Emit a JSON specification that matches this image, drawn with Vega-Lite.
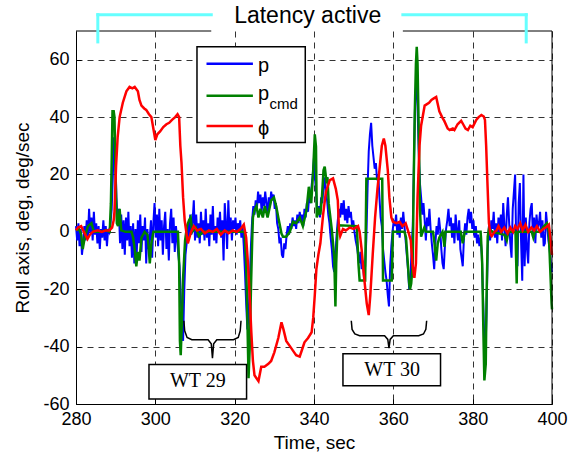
{
"$schema":"https://vega.github.io/schema/vega-lite/v6.json",
"width":476,"height":373,
"autosize":{"type":"none"},
"padding":{"left":76,"top":31,"right":24,"bottom":52},
"background":"white",
"config":{"view":{"stroke":null},
"axis":{"labelFont":"Liberation Sans","labelFontSize":18,"labelColor":"black","labelFlush":false,"titleFont":"Liberation Sans","titleFontSize":19,"titleFontWeight":"normal","titleColor":"black","domainColor":"black","domainWidth":1,"grid":true,"gridColor":"#333","gridDash":[6,5],"gridWidth":1,"gridOpacity":1,"ticks":true,"tickSize":-5,"tickColor":"black","tickWidth":1}},
"datasets":{
"p":[{"t":280.0,"v":2},{"t":280.3,"v":-3},{"t":280.6,"v":3},{"t":280.9,"v":-5},{"t":281.2,"v":1},{"t":281.5,"v":-8},{"t":281.8,"v":-4},{"t":282.1,"v":2},{"t":282.4,"v":-3},{"t":282.7,"v":4},{"t":283.0,"v":-2},{"t":283.3,"v":8},{"t":283.6,"v":0},{"t":283.9,"v":5},{"t":284.2,"v":-3},{"t":284.5,"v":7},{"t":284.8,"v":-1},{"t":285.1,"v":3},{"t":285.4,"v":-4},{"t":285.7,"v":2},{"t":286.0,"v":-6},{"t":286.3,"v":1},{"t":286.6,"v":-2},{"t":286.9,"v":4},{"t":287.2,"v":-3},{"t":287.5,"v":2},{"t":287.8,"v":-5},{"t":288.1,"v":1},{"t":288.4,"v":0},{"t":288.7,"v":3},{"t":289.0,"v":8},{"t":289.3,"v":20},{"t":289.6,"v":33},{"t":289.9,"v":27},{"t":290.2,"v":12},{"t":290.5,"v":3},{"t":290.8,"v":8},{"t":291.1,"v":-4},{"t":291.4,"v":6},{"t":291.7,"v":-6},{"t":292.0,"v":4},{"t":292.3,"v":-8},{"t":292.6,"v":5},{"t":292.9,"v":-3},{"t":293.2,"v":7},{"t":293.5,"v":-5},{"t":293.8,"v":2},{"t":294.1,"v":-9},{"t":294.4,"v":3},{"t":294.7,"v":-11},{"t":295.0,"v":1},{"t":295.3,"v":-8},{"t":295.6,"v":4},{"t":295.9,"v":-4},{"t":296.2,"v":6},{"t":296.5,"v":-7},{"t":296.8,"v":2},{"t":297.1,"v":-3},{"t":297.4,"v":5},{"t":297.7,"v":-11},{"t":298.0,"v":1},{"t":298.3,"v":-6},{"t":298.6,"v":-2},{"t":298.9,"v":4},{"t":299.2,"v":-9},{"t":299.5,"v":3},{"t":299.8,"v":10},{"t":300.1,"v":-2},{"t":300.4,"v":6},{"t":300.7,"v":-5},{"t":301.0,"v":8},{"t":301.3,"v":-3},{"t":301.6,"v":4},{"t":301.9,"v":-8},{"t":302.2,"v":2},{"t":302.5,"v":7},{"t":302.8,"v":-6},{"t":303.1,"v":1},{"t":303.4,"v":-10},{"t":303.7,"v":3},{"t":304.0,"v":8},{"t":304.3,"v":-4},{"t":304.6,"v":5},{"t":304.9,"v":-7},{"t":305.2,"v":2},{"t":305.5,"v":-3},{"t":305.8,"v":-8},{"t":306.1,"v":-12},{"t":306.4,"v":-22},{"t":306.7,"v":-33},{"t":307.0,"v":-38},{"t":307.3,"v":-20},{"t":307.6,"v":-8},{"t":307.9,"v":-4},{"t":308.2,"v":3},{"t":308.5,"v":-2},{"t":308.8,"v":6},{"t":309.1,"v":-1},{"t":309.4,"v":4},{"t":309.7,"v":11},{"t":310.0,"v":-3},{"t":310.3,"v":6},{"t":310.6,"v":-2},{"t":310.9,"v":3},{"t":311.2,"v":-4},{"t":311.5,"v":7},{"t":311.8,"v":-1},{"t":312.1,"v":4},{"t":312.4,"v":-3},{"t":312.7,"v":8},{"t":313.0,"v":-2},{"t":313.3,"v":3},{"t":313.6,"v":-5},{"t":313.9,"v":6},{"t":314.2,"v":-1},{"t":314.5,"v":9},{"t":314.8,"v":-3},{"t":315.1,"v":2},{"t":315.4,"v":-4},{"t":315.7,"v":5},{"t":316.0,"v":0},{"t":316.3,"v":7},{"t":316.6,"v":-2},{"t":316.9,"v":4},{"t":317.2,"v":-10},{"t":317.5,"v":10},{"t":317.8,"v":3},{"t":318.1,"v":-6},{"t":318.4,"v":11},{"t":318.7,"v":0},{"t":319.0,"v":5},{"t":319.3,"v":-3},{"t":319.6,"v":4},{"t":319.9,"v":1},{"t":320.2,"v":5},{"t":320.5,"v":-1},{"t":320.8,"v":3},{"t":321.1,"v":0},{"t":321.4,"v":4},{"t":321.7,"v":-2},{"t":322.0,"v":2},{"t":322.3,"v":-5},{"t":322.6,"v":-14},{"t":322.9,"v":-25},{"t":323.2,"v":-34},{"t":323.5,"v":-30},{"t":323.8,"v":-18},{"t":324.1,"v":-5},{"t":324.4,"v":4},{"t":324.7,"v":9},{"t":325.0,"v":6},{"t":325.3,"v":11},{"t":325.6,"v":8},{"t":325.9,"v":14},{"t":326.2,"v":10},{"t":326.5,"v":13},{"t":326.8,"v":7},{"t":327.1,"v":12},{"t":327.4,"v":9},{"t":327.7,"v":14},{"t":328.0,"v":10},{"t":328.3,"v":6},{"t":328.6,"v":12},{"t":328.9,"v":9},{"t":329.2,"v":14},{"t":329.5,"v":11},{"t":329.8,"v":13},{"t":330.1,"v":8},{"t":330.4,"v":10},{"t":330.7,"v":3},{"t":331.0,"v":1},{"t":331.3,"v":-4},{"t":331.6,"v":-2},{"t":331.9,"v":-8},{"t":332.2,"v":-9},{"t":332.5,"v":-4},{"t":332.8,"v":-6},{"t":333.1,"v":-1},{"t":333.4,"v":2},{"t":333.7,"v":-1},{"t":334.0,"v":3},{"t":334.3,"v":1},{"t":334.6,"v":5},{"t":334.9,"v":2},{"t":335.2,"v":4},{"t":335.5,"v":1},{"t":335.8,"v":6},{"t":336.1,"v":3},{"t":336.4,"v":7},{"t":336.7,"v":4},{"t":337.0,"v":6},{"t":337.3,"v":2},{"t":337.6,"v":8},{"t":337.9,"v":5},{"t":338.2,"v":10},{"t":338.5,"v":7},{"t":338.8,"v":13},{"t":339.1,"v":10},{"t":339.4,"v":16},{"t":339.7,"v":20},{"t":340.0,"v":26},{"t":340.3,"v":18},{"t":340.6,"v":12},{"t":340.9,"v":6},{"t":341.2,"v":9},{"t":341.5,"v":5},{"t":341.8,"v":12},{"t":342.1,"v":10},{"t":342.4,"v":16},{"t":342.7,"v":19},{"t":343.0,"v":13},{"t":343.3,"v":11},{"t":343.6,"v":6},{"t":343.9,"v":3},{"t":344.2,"v":-2},{"t":344.5,"v":-6},{"t":344.8,"v":-12},{"t":345.1,"v":-14},{"t":345.4,"v":-8},{"t":345.7,"v":-1},{"t":346.0,"v":4},{"t":346.3,"v":8},{"t":346.6,"v":5},{"t":346.9,"v":10},{"t":347.2,"v":6},{"t":347.5,"v":11},{"t":347.8,"v":4},{"t":348.1,"v":8},{"t":348.4,"v":3},{"t":348.7,"v":9},{"t":349.0,"v":5},{"t":349.3,"v":7},{"t":349.6,"v":2},{"t":349.9,"v":4},{"t":350.2,"v":0},{"t":350.5,"v":-3},{"t":350.8,"v":-5},{"t":351.1,"v":-8},{"t":351.4,"v":-11},{"t":351.7,"v":-7},{"t":352.0,"v":-13},{"t":352.3,"v":-10},{"t":352.6,"v":-16},{"t":352.9,"v":-12},{"t":353.2,"v":-2},{"t":353.5,"v":15},{"t":353.8,"v":28},{"t":354.1,"v":34},{"t":354.4,"v":38},{"t":354.7,"v":30},{"t":355.0,"v":26},{"t":355.3,"v":22},{"t":355.6,"v":24},{"t":355.9,"v":18},{"t":356.2,"v":20},{"t":356.5,"v":12},{"t":356.8,"v":5},{"t":357.1,"v":2},{"t":357.4,"v":-6},{"t":357.7,"v":-10},{"t":358.0,"v":-14},{"t":358.3,"v":-17},{"t":358.6,"v":-22},{"t":358.9,"v":-26},{"t":359.2,"v":-12},{"t":359.5,"v":-5},{"t":359.8,"v":0},{"t":360.1,"v":4},{"t":360.4,"v":2},{"t":360.7,"v":6},{"t":361.0,"v":-1},{"t":361.3,"v":3},{"t":361.6,"v":-2},{"t":361.9,"v":5},{"t":362.2,"v":1},{"t":362.5,"v":7},{"t":362.8,"v":2},{"t":363.1,"v":-3},{"t":363.4,"v":-8},{"t":363.7,"v":-13},{"t":364.0,"v":-20},{"t":364.3,"v":-17},{"t":364.6,"v":-6},{"t":364.9,"v":2},{"t":365.2,"v":24},{"t":365.5,"v":46},{"t":365.8,"v":52},{"t":366.1,"v":44},{"t":366.4,"v":28},{"t":366.7,"v":17},{"t":367.0,"v":12},{"t":367.3,"v":6},{"t":367.6,"v":10},{"t":367.9,"v":4},{"t":368.2,"v":-3},{"t":368.5,"v":5},{"t":368.8,"v":2},{"t":369.1,"v":8},{"t":369.4,"v":1},{"t":369.7,"v":-4},{"t":370.0,"v":-8},{"t":370.3,"v":-13},{"t":370.6,"v":-4},{"t":370.9,"v":2},{"t":371.2,"v":-1},{"t":371.5,"v":5},{"t":371.8,"v":1},{"t":372.1,"v":-6},{"t":372.4,"v":-11},{"t":372.7,"v":-13},{"t":373.0,"v":-5},{"t":373.3,"v":1},{"t":373.6,"v":4},{"t":373.9,"v":8},{"t":374.2,"v":2},{"t":374.5,"v":5},{"t":374.8,"v":-2},{"t":375.1,"v":3},{"t":375.4,"v":-4},{"t":375.7,"v":6},{"t":376.0,"v":1},{"t":376.3,"v":-3},{"t":376.6,"v":4},{"t":376.9,"v":-6},{"t":377.2,"v":-9},{"t":377.5,"v":-12},{"t":377.8,"v":-2},{"t":378.1,"v":3},{"t":378.4,"v":-1},{"t":378.7,"v":5},{"t":379.0,"v":8},{"t":379.3,"v":3},{"t":379.6,"v":7},{"t":379.9,"v":1},{"t":380.2,"v":4},{"t":380.5,"v":-2},{"t":380.8,"v":2},{"t":381.1,"v":-4},{"t":381.4,"v":-1},{"t":381.7,"v":-5},{"t":382.0,"v":-2},{"t":382.3,"v":-8},{"t":382.6,"v":-22},{"t":382.9,"v":-36},{"t":383.2,"v":-43},{"t":383.5,"v":-28},{"t":383.8,"v":-6},{"t":384.1,"v":2},{"t":384.4,"v":-3},{"t":384.7,"v":4},{"t":385.0,"v":1},{"t":385.3,"v":7},{"t":385.6,"v":-2},{"t":385.9,"v":3},{"t":386.2,"v":-4},{"t":386.5,"v":5},{"t":386.8,"v":0},{"t":387.1,"v":6},{"t":387.4,"v":-3},{"t":387.7,"v":10},{"t":388.0,"v":2},{"t":388.3,"v":-5},{"t":388.6,"v":6},{"t":388.9,"v":12},{"t":389.2,"v":3},{"t":389.5,"v":-4},{"t":389.8,"v":-9},{"t":390.1,"v":8},{"t":390.4,"v":14},{"t":390.7,"v":20},{"t":391.0,"v":-6},{"t":391.3,"v":-12},{"t":391.6,"v":10},{"t":391.9,"v":17},{"t":392.2,"v":-3},{"t":392.5,"v":-17},{"t":392.8,"v":20},{"t":393.1,"v":-12},{"t":393.4,"v":5},{"t":393.7,"v":-6},{"t":394.0,"v":-11},{"t":394.3,"v":3},{"t":394.6,"v":8},{"t":394.9,"v":10},{"t":395.2,"v":-2},{"t":395.5,"v":5},{"t":395.8,"v":-4},{"t":396.1,"v":6},{"t":396.4,"v":1},{"t":396.7,"v":3},{"t":397.0,"v":7},{"t":397.3,"v":-2},{"t":397.6,"v":4},{"t":397.9,"v":-5},{"t":398.2,"v":-4},{"t":398.5,"v":7},{"t":398.8,"v":2},{"t":399.1,"v":-3},{"t":399.4,"v":-6},{"t":399.7,"v":-11},{"t":400.0,"v":-14}],
"pcmd":[{"t":280.0,"v":0.5},{"t":280.8,"v":1},{"t":281.3,"v":-1},{"t":281.7,"v":-6},{"t":282.2,"v":-2},{"t":283.0,"v":2},{"t":283.9,"v":3},{"t":284.5,"v":0},{"t":286.0,"v":0},{"t":287.5,"v":0.5},{"t":288.5,"v":0},{"t":288.8,"v":10},{"t":289.0,"v":25},{"t":289.2,"v":42},{"t":289.5,"v":42},{"t":289.7,"v":40},{"t":289.9,"v":25},{"t":290.1,"v":12},{"t":290.3,"v":3},{"t":290.6,"v":2},{"t":291.0,"v":8},{"t":291.4,"v":0.5},{"t":292.5,"v":0},{"t":294.0,"v":0},{"t":294.4,"v":-2},{"t":294.8,"v":-6},{"t":295.2,"v":-12},{"t":295.6,"v":-7},{"t":296.0,"v":-10},{"t":296.5,"v":-2},{"t":297.3,"v":0},{"t":298.0,"v":-1},{"t":298.3,"v":-5},{"t":298.6,"v":-11},{"t":299.0,"v":-4},{"t":299.5,"v":0},{"t":305.7,"v":0},{"t":306.0,"v":-11},{"t":306.2,"v":-38},{"t":306.4,"v":-43},{"t":306.7,"v":-31},{"t":307.0,"v":-16},{"t":307.5,"v":-3},{"t":308.0,"v":2},{"t":308.5,"v":4},{"t":308.9,"v":5},{"t":309.3,"v":0},{"t":310.2,"v":1.5},{"t":311.0,"v":-1.5},{"t":311.9,"v":0},{"t":322.5,"v":0},{"t":322.9,"v":-11},{"t":323.2,"v":-30},{"t":323.5,"v":-51},{"t":323.8,"v":-40},{"t":324.1,"v":-20},{"t":324.4,"v":-4},{"t":324.6,"v":5},{"t":325.0,"v":7.5},{"t":325.5,"v":9},{"t":326.0,"v":5},{"t":326.5,"v":8},{"t":327.1,"v":5},{"t":327.6,"v":9},{"t":328.3,"v":5},{"t":329.2,"v":11},{"t":329.9,"v":12},{"t":330.5,"v":8.7},{"t":331.0,"v":5},{"t":331.8,"v":-0.6},{"t":332.2,"v":-1.7},{"t":333.0,"v":-1.7},{"t":333.9,"v":0},{"t":334.7,"v":3.5},{"t":335.5,"v":3},{"t":336.4,"v":5},{"t":337.2,"v":2},{"t":338.1,"v":7.5},{"t":338.7,"v":15.7},{"t":339.3,"v":10},{"t":339.8,"v":21.5},{"t":340.2,"v":34},{"t":340.5,"v":29.7},{"t":340.7,"v":5},{"t":341.2,"v":7.5},{"t":341.6,"v":6},{"t":342.0,"v":12},{"t":342.4,"v":21.5},{"t":342.7,"v":22.7},{"t":343.1,"v":18},{"t":343.4,"v":19},{"t":343.7,"v":10},{"t":344.5,"v":0.6},{"t":345.1,"v":-8.7},{"t":345.4,"v":-26},{"t":345.6,"v":-11},{"t":345.9,"v":0},{"t":346.2,"v":2.3},{"t":350.8,"v":2},{"t":351.2,"v":-11},{"t":351.5,"v":-17},{"t":352.9,"v":-17},{"t":353.2,"v":18.5},{"t":357.2,"v":18.5},{"t":357.4,"v":-17},{"t":359.6,"v":-17},{"t":359.9,"v":0},{"t":362.8,"v":0},{"t":363.2,"v":-2},{"t":363.6,"v":-10},{"t":364.0,"v":-18},{"t":364.2,"v":-20},{"t":364.5,"v":-18},{"t":364.9,"v":-11},{"t":365.1,"v":14.5},{"t":365.4,"v":41},{"t":365.7,"v":58.7},{"t":365.9,"v":64.5},{"t":366.1,"v":58.7},{"t":366.4,"v":35.5},{"t":366.7,"v":8.7},{"t":367.0,"v":-1.7},{"t":367.4,"v":0},{"t":367.8,"v":1.5},{"t":368.2,"v":0},{"t":370.0,"v":0},{"t":370.3,"v":-3},{"t":370.8,"v":-10},{"t":371.2,"v":-4},{"t":371.6,"v":-2},{"t":372.4,"v":0},{"t":372.9,"v":-5.2},{"t":373.1,"v":0},{"t":377.0,"v":0},{"t":377.5,"v":-4},{"t":378.0,"v":0},{"t":382.0,"v":0},{"t":382.1,"v":-2},{"t":382.4,"v":-11},{"t":382.7,"v":-34.5},{"t":382.95,"v":-51.8},{"t":383.3,"v":-46},{"t":383.5,"v":-22.7},{"t":383.8,"v":-1.7},{"t":384.1,"v":1},{"t":385.0,"v":0},{"t":388.0,"v":-1},{"t":388.2,"v":-1.7},{"t":388.6,"v":-3},{"t":389.0,"v":0},{"t":390.8,"v":0},{"t":391.1,"v":-18},{"t":391.3,"v":0},{"t":394.9,"v":0},{"t":395.3,"v":-2},{"t":395.7,"v":0},{"t":397.0,"v":0},{"t":397.8,"v":1.7},{"t":398.7,"v":3},{"t":399.2,"v":0},{"t":399.5,"v":-11},{"t":399.9,"v":-25},{"t":400.0,"v":-27}],
"phi":[{"t":280.0,"v":0.5},{"t":280.5,"v":1.5},{"t":281.3,"v":2},{"t":282.0,"v":0},{"t":282.9,"v":-2.5},{"t":283.5,"v":-1},{"t":284.2,"v":0},{"t":285.5,"v":0.5},{"t":286.5,"v":0},{"t":287.5,"v":0.5},{"t":288.4,"v":0.5},{"t":289.1,"v":1.5},{"t":289.5,"v":4},{"t":289.7,"v":7},{"t":290.1,"v":23},{"t":290.5,"v":33},{"t":291.0,"v":40},{"t":291.8,"v":45},{"t":292.7,"v":49},{"t":293.5,"v":50.5},{"t":294.2,"v":50},{"t":294.8,"v":50.5},{"t":295.6,"v":49},{"t":296.0,"v":46},{"t":296.5,"v":44},{"t":297.2,"v":43},{"t":297.7,"v":42.5},{"t":298.4,"v":41},{"t":299.0,"v":40},{"t":299.5,"v":36},{"t":300.0,"v":32},{"t":300.5,"v":34},{"t":301.2,"v":35},{"t":302.0,"v":36.5},{"t":302.8,"v":37.5},{"t":303.5,"v":38},{"t":304.2,"v":39},{"t":305.0,"v":40},{"t":305.6,"v":41},{"t":306.0,"v":40},{"t":306.3,"v":30},{"t":306.6,"v":24},{"t":307.0,"v":12},{"t":307.4,"v":4},{"t":307.8,"v":0},{"t":308.2,"v":-4},{"t":308.5,"v":-2.5},{"t":309.0,"v":0},{"t":309.7,"v":2},{"t":310.5,"v":0.5},{"t":311.5,"v":1},{"t":312.5,"v":-0.5},{"t":313.5,"v":0.5},{"t":314.5,"v":0},{"t":315.5,"v":1},{"t":316.5,"v":-1},{"t":317.5,"v":0.5},{"t":318.5,"v":-0.5},{"t":319.5,"v":0.5},{"t":320.5,"v":0},{"t":321.5,"v":1},{"t":322.3,"v":2.5},{"t":322.9,"v":-2},{"t":323.4,"v":-12},{"t":323.8,"v":-23},{"t":324.2,"v":-35},{"t":324.6,"v":-45},{"t":325.0,"v":-50},{"t":325.5,"v":-51},{"t":326.0,"v":-52},{"t":326.7,"v":-47},{"t":327.5,"v":-47},{"t":328.5,"v":-46},{"t":329.2,"v":-45},{"t":330.0,"v":-42},{"t":331.0,"v":-37},{"t":331.8,"v":-31.5},{"t":332.3,"v":-34},{"t":333.0,"v":-38},{"t":334.0,"v":-40},{"t":335.0,"v":-42},{"t":335.5,"v":-43},{"t":336.4,"v":-43.5},{"t":337.0,"v":-41},{"t":337.6,"v":-38.5},{"t":338.5,"v":-37},{"t":339.4,"v":-35},{"t":339.8,"v":-30},{"t":340.2,"v":-22},{"t":340.6,"v":-13},{"t":341.1,"v":-8},{"t":341.6,"v":-4},{"t":342.3,"v":6},{"t":343.0,"v":14},{"t":344.0,"v":18},{"t":344.8,"v":18.6},{"t":345.5,"v":15},{"t":346.0,"v":11},{"t":346.3,"v":1},{"t":346.6,"v":-1.5},{"t":347.3,"v":1},{"t":348.0,"v":0.5},{"t":349.0,"v":1.5},{"t":350.0,"v":1},{"t":351.1,"v":2},{"t":351.5,"v":0},{"t":352.0,"v":-6},{"t":352.5,"v":-14},{"t":353.3,"v":-25},{"t":353.8,"v":-29},{"t":354.2,"v":-22},{"t":354.8,"v":-8},{"t":355.4,"v":5},{"t":356.0,"v":15},{"t":356.6,"v":23},{"t":357.1,"v":30},{"t":357.6,"v":32.5},{"t":358.0,"v":30},{"t":358.6,"v":21.5},{"t":359.0,"v":12},{"t":359.5,"v":5},{"t":359.9,"v":3.5},{"t":360.8,"v":3},{"t":361.6,"v":3.5},{"t":362.3,"v":2},{"t":363.1,"v":3},{"t":363.8,"v":0},{"t":364.4,"v":-3},{"t":364.8,"v":-11},{"t":365.3,"v":-16},{"t":365.7,"v":-11},{"t":366.1,"v":12},{"t":366.6,"v":30},{"t":367.0,"v":37},{"t":367.9,"v":44},{"t":369.0,"v":45},{"t":369.6,"v":46},{"t":370.2,"v":46.5},{"t":370.8,"v":47},{"t":371.6,"v":42},{"t":372.3,"v":40},{"t":372.9,"v":38.5},{"t":373.7,"v":36},{"t":374.2,"v":35.5},{"t":375.0,"v":36},{"t":375.4,"v":35.5},{"t":376.2,"v":37.5},{"t":377.1,"v":38.7},{"t":377.6,"v":37.5},{"t":378.2,"v":36},{"t":378.8,"v":35.5},{"t":379.4,"v":37},{"t":380.0,"v":36.5},{"t":380.9,"v":39},{"t":381.5,"v":40},{"t":382.2,"v":40.7},{"t":382.8,"v":40.2},{"t":383.1,"v":39},{"t":383.4,"v":30},{"t":383.7,"v":18},{"t":384.1,"v":3},{"t":384.5,"v":-1},{"t":384.8,"v":-1.5},{"t":385.5,"v":0},{"t":386.0,"v":0.5},{"t":386.5,"v":2},{"t":387.2,"v":0},{"t":388.0,"v":1.5},{"t":388.8,"v":-0.5},{"t":389.5,"v":1.5},{"t":390.2,"v":0},{"t":390.7,"v":2},{"t":391.3,"v":1},{"t":392.0,"v":3},{"t":392.6,"v":0.5},{"t":393.3,"v":2.5},{"t":394.0,"v":0},{"t":394.8,"v":1.5},{"t":395.5,"v":0.5},{"t":396.2,"v":2},{"t":397.0,"v":0},{"t":397.8,"v":1},{"t":398.6,"v":1.7},{"t":399.2,"v":2.5},{"t":399.6,"v":-2},{"t":400.0,"v":-8}],
"frame":[{"t":280,"t2":314.1,"v":70,"v2":70},{"t":362.4,"t2":400,"v":70,"v2":70},{"t":400,"t2":400,"v":-60,"v2":70}],
"bracket":[{"t":285.5,"t2":285.5,"v":66.2,"v2":75.7},{"t":285.5,"t2":314.1,"v":75.7,"v2":75.7},{"t":362.4,"t2":393.5,"v":75.7,"v2":75.7},{"t":393.5,"t2":393.5,"v":75.7,"v2":66.2}],
"boxes":[{"t":310.5,"t2":337.8,"v":64.5,"v2":31.1},{"t":298.4,"t2":323.0,"v":-46.2,"v2":-58.3},{"t":347.3,"t2":371.9,"v":-42.5,"v2":-53.6}],
"legendlines":[{"t":312.9,"t2":324.6,"v":58.6,"s":"p"},{"t":312.9,"t2":324.6,"v":47.4,"s":"pcmd"},{"t":312.9,"t2":324.6,"v":36.9,"s":"phi"}],
"braces":[{"g":1,"t":307.2,"v":-31},{"g":1,"t":307.4,"v":-34.5},{"g":1,"t":308.0,"v":-36.8},{"g":1,"t":309.2,"v":-37.6},{"g":1,"t":313.3,"v":-37.6},{"g":1,"t":314.1,"v":-39},{"g":1,"t":314.4,"v":-44},{"g":1,"t":314.7,"v":-39},{"g":1,"t":315.5,"v":-37.6},{"g":1,"t":319.7,"v":-37.6},{"g":1,"t":320.9,"v":-36.8},{"g":1,"t":321.4,"v":-34.5},{"g":1,"t":321.6,"v":-31},{"g":2,"t":349.4,"v":-31},{"g":2,"t":349.6,"v":-34},{"g":2,"t":350.3,"v":-35.6},{"g":2,"t":351.5,"v":-36.2},{"g":2,"t":357.8,"v":-36.2},{"g":2,"t":358.6,"v":-37.5},{"g":2,"t":358.9,"v":-40.5},{"g":2,"t":359.2,"v":-37.5},{"g":2,"t":360.0,"v":-36.2},{"g":2,"t":366.4,"v":-36.2},{"g":2,"t":367.6,"v":-35.6},{"g":2,"t":368.2,"v":-34},{"g":2,"t":368.4,"v":-31}],
"title":[{"t":338.4,"v":72.9,"txt":"Latency active"}],
"leglabels":[{"t":325.9,"v":55.7,"txt":"p"},{"t":325.9,"v":45.8,"txt":"p"},{"t":325.9,"v":33.6,"txt":"ϕ"}],
"sub":[{"t":328.8,"v":42.7,"txt":"cmd"}],
"wt":[{"t":310.7,"v":-54.2,"txt":"WT 29"},{"t":359.7,"v":-50.3,"txt":"WT 30"}]
},
"encoding":{
 "x":{"field":"t","type":"quantitative","scale":{"domain":[280,400],"nice":false,"zero":false},"axis":{"values":[280,300,320,340,360,380,400],"title":"Time, sec","labelPadding":11,"titlePadding":5}},
 "y":{"field":"v","type":"quantitative","scale":{"domain":[-60,70],"nice":false,"zero":false},"axis":{"values":[-60,-40,-20,0,20,40,60],"title":"Roll axis, deg, deg/sec","labelPadding":12,"titlePadding":10,"labelExpr":"'' + datum.value"}}
},
"layer":[
{"data":{"name":"p"},"mark":{"type":"line","color":"#0000FF","strokeWidth":2}},
{"data":{"name":"pcmd"},"mark":{"type":"line","color":"#008000","strokeWidth":2.5}},
{"data":{"name":"phi"},"mark":{"type":"line","color":"#FF0000","strokeWidth":2.5}},
{"data":{"name":"frame"},"mark":{"type":"rule","color":"black","strokeWidth":1},
 "encoding":{"x2":{"field":"t2"},"y2":{"field":"v2"}}},
{"data":{"name":"bracket"},"mark":{"type":"rule","color":"#66FFFF","strokeWidth":3,"strokeCap":"square"},
 "encoding":{"x2":{"field":"t2"},"y2":{"field":"v2"}}},
{"data":{"name":"boxes"},"mark":{"type":"rect","fill":"white","stroke":"black","strokeWidth":1.5},
 "encoding":{"x2":{"field":"t2"},"y2":{"field":"v2"}}},
{"data":{"name":"legendlines"},"mark":{"type":"rule","strokeWidth":2.5},
 "encoding":{"x2":{"field":"t2"},
 "color":{"field":"s","type":"nominal","scale":{"domain":["p","pcmd","phi"],"range":["#0000FF","#008000","#FF0000"]},"legend":null}}},
{"data":{"name":"braces"},"mark":{"type":"line","color":"black","strokeWidth":1.5},
 "encoding":{"detail":{"field":"g","type":"nominal"}}},
{"data":{"name":"title"},"mark":{"type":"text","font":"Liberation Sans","fontSize":23,"align":"center","baseline":"alphabetic","color":"black"},
 "encoding":{"text":{"field":"txt"}}},
{"data":{"name":"leglabels"},"mark":{"type":"text","font":"Liberation Sans","fontSize":20,"align":"left","baseline":"alphabetic","color":"black"},
 "encoding":{"text":{"field":"txt"}}},
{"data":{"name":"sub"},"mark":{"type":"text","font":"Liberation Sans","fontSize":15,"align":"left","baseline":"alphabetic","color":"black"},
 "encoding":{"text":{"field":"txt"}}},
{"data":{"name":"wt"},"mark":{"type":"text","font":"Liberation Serif","fontSize":20,"align":"center","baseline":"alphabetic","color":"black"},
 "encoding":{"text":{"field":"txt"}}}
]
}
